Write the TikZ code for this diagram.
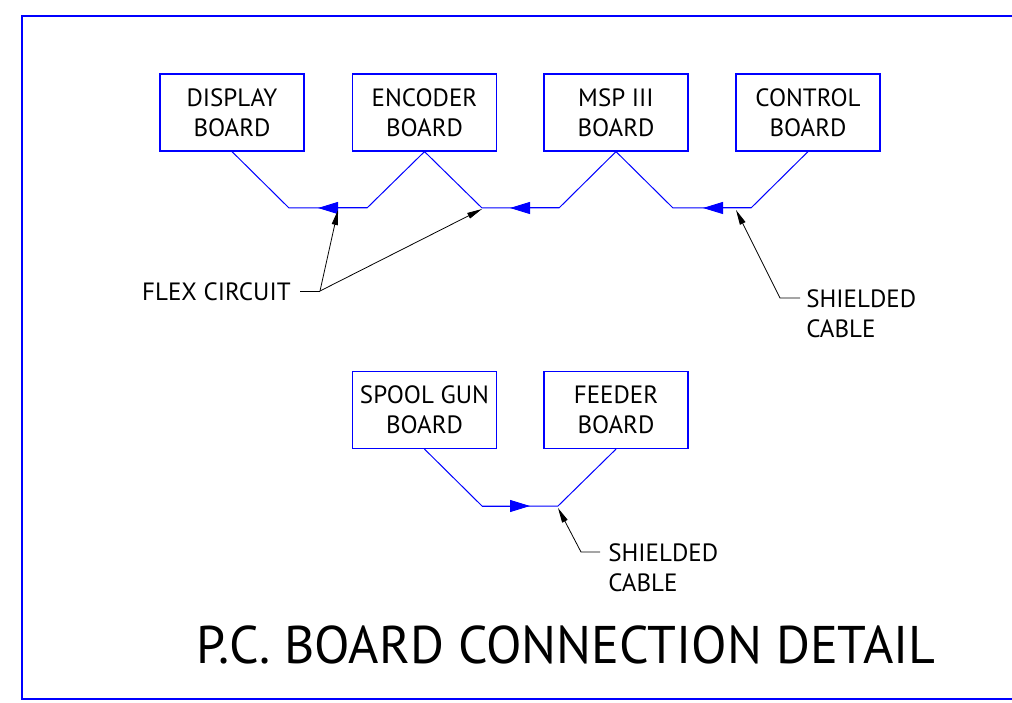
\documentclass[tikz,border=0pt]{standalone}
\usepackage{fontspec}
\setmainfont{PT Sans}
\newfontfamily\titlefont[FakeStretch=0.98]{PT Sans}
\usetikzlibrary{arrows.meta}

\tikzset{every picture/.style={line width=0.75pt}}
\tikzset{
  board/.style={draw={rgb,255:red,0;green,0;blue,255}, line width=1.2pt, minimum width=144pt, minimum height=77pt, inner sep=0pt, align=center, font=\fontsize{25}{30}\selectfont},
  cable/.style={draw={rgb,255:red,0;green,0;blue,255}, line width=1pt},
  cablehead/.style={cable, -{Triangle[length=20pt,width=12pt]}},
  leader/.style={draw=black, line width=0.8pt},
  leaderhead/.style={leader, -{Triangle[length=15pt,width=6pt]}},
  callout/.style={inner sep=0pt, align=left, font=\fontsize{25}{30}\selectfont}
}

\begin{document}
\begin{tikzpicture}[x=1pt,y=1pt,yscale=-1,xscale=1]
		\useasboundingbox (0,0) rectangle (1012,703);

		%Frame
		\draw [draw={rgb,255:red,0;green,0;blue,255}, line width=1.3pt] (1013,16) -- (22,16) -- (22,699) -- (1013,699) ;

		%Boards
		\node [board] (disp) at (232,112.5) {DISPLAY\\BOARD};
		\node [board] (enc) at (424.5,112.5) {ENCODER\\BOARD};
		\node [board] (msp) at (616,112.5) {MSP III\\BOARD};
		\node [board] (ctrl) at (808,112.5) {CONTROL\\BOARD};
		\node [board] (spool) at (424.5,410) {SPOOL GUN\\BOARD};
		\node [board] (feed) at (616,410) {FEEDER\\BOARD};

		%Joints
		\coordinate (j1) at (289,208);
		\coordinate (j2) at (367,208);
		\coordinate (j3) at (482,208);
		\coordinate (j4) at (559,208);
		\coordinate (j5) at (673,208);
		\coordinate (j6) at (751,208);
		\coordinate (k1) at (482,506);
		\coordinate (k2) at (558,506);
		%Arrow tips
		\coordinate (t1) at (318,208);
		\coordinate (t2) at (510,208);
		\coordinate (t3) at (703,208);
		\coordinate (t4) at (530,506);

		%Flex circuit and cables
		\draw [cable] (disp.south) -- (j1) -- (j2) -- (enc.south) -- (j3) -- (j4) -- (msp.south) -- (j5) -- (j6) -- (ctrl.south) ;
		\draw [cablehead] (j2) -- (t1) ;
		\draw [cablehead] (j4) -- (t2) ;
		\draw [cablehead] (j6) -- (t3) ;
		\draw [cable] (spool.south) -- (k1) -- (k2) -- (feed.south) ;
		\draw [cablehead] (k1) -- (t4) ;

		% Text Node
		\node [callout, anchor=east] (flex) at (291,291.5) {FLEX CIRCUIT};
		% Text Node
		\node [callout, anchor=north west] (shield1) at (806,289) {SHIELDED\\CABLE};
		% Text Node
		\node [callout, anchor=north west] (shield2) at (608,543.5) {SHIELDED\\CABLE};
		% Text Node
		\node [inner sep=0pt, font=\titlefont\fontsize{53}{60}\selectfont] (title) at (566,644.5) {P.C. BOARD CONNECTION DETAIL};

		%Leaders
		\coordinate (f0) at (300,291);
		\coordinate (f1) at (320,291);
		\coordinate (ft1) at (338,210);
		\coordinate (ft2) at (482,209);
		\draw [leader] (f0) -- (f1) ;
		\draw [leaderhead] (f1) -- (ft1) ;
		\draw [leaderhead] (f1) -- (ft2) ;

		\coordinate (s0) at (800,298);
		\coordinate (s1) at (780,298);
		\coordinate (st1) at (736,210);
		\draw [leaderhead] (s0) -- (s1) -- (st1) ;

		\coordinate (r0) at (600,552);
		\coordinate (r1) at (581,552);
		\coordinate (rt1) at (558,508);
		\draw [leaderhead] (r0) -- (r1) -- (rt1) ;

\end{tikzpicture}
\end{document}
